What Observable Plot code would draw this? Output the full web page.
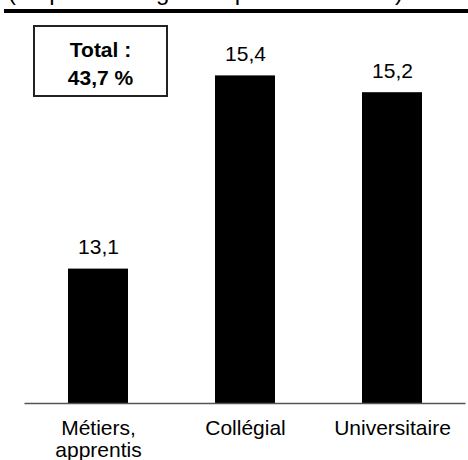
<!DOCTYPE html>
<html>
<head>
<meta charset="utf-8">
<script src="https://cdn.jsdelivr.net/npm/d3@7"></script>
<script src="https://cdn.jsdelivr.net/npm/@observablehq/plot@0.6"></script>
<style>
  body { margin: 0; background: #fff; }
  #wrap { position: relative; width: 468px; height: 460px; overflow: hidden; font-family: "Liberation Sans", Arial, sans-serif; color: #000; }
  #chart { position: absolute; left: 0; top: 0; }
  .subtitle { position: absolute; left: 8px; top: -20px; font-size: 24px; line-height: 24px; white-space: nowrap; }
  .rule { position: absolute; left: 4px; right: 0; top: 9px; height: 3.5px; background: #000; }
  .total { position: absolute; left: 33px; top: 25px; width: 135px; height: 72px; box-sizing: border-box;
           border: 2px solid #222; padding-top: 9px; text-align: center; font-weight: bold; font-size: 21px; line-height: 28px; }
</style>
</head>
<body>
<div id="wrap">
  <div id="chart"></div>
  <div class="subtitle">(en pourcentage des postes vacants)</div>
  <div class="rule"></div>
  <div class="total" id="total"></div>
</div>
<script>
// Share of vacancies by required level of education
const categories = ["Métiers,\napprentis", "Collégial", "Universitaire"];
const values = [13.1, 15.4, 15.2];
const yMin = 11.5;
const yMax = 16;

const fmt = v => v.toFixed(1).replace(".", ",");
const data = categories.map((c, i) => ({category: c, value: values[i]}));

const font = "'Liberation Sans', Arial, sans-serif";

const chart = Plot.plot({
  width: 468,
  height: 460,
  marginLeft: 24.5,
  marginRight: 2.5,
  marginTop: 25,
  marginBottom: 57,
  style: {fontFamily: font, fontSize: "21px", color: "#000", background: "transparent", overflow: "visible"},
  x: {domain: categories, paddingInner: 0.59, paddingOuter: 0.295, label: null},
  y: {domain: [yMin, yMax], axis: null},
  marks: [
    Plot.barY(data, {x: "category", y1: () => yMin, y2: "value", fill: "#000"}),
    Plot.ruleY([yMin], {stroke: "#555", strokeWidth: 1.5}),
    Plot.text(data, {x: "category", y: "value", text: d => fmt(d.value), lineAnchor: "bottom", dy: -15, fontSize: 21, fill: "#000"}),
    Plot.axisX({tickSize: 0, tickPadding: 16, fontSize: 21, lineHeight: 1.05, fill: "#000", label: null})
  ]
});
document.getElementById("chart").appendChild(chart);

// Total across the three levels
const total = d3.sum(values);
document.getElementById("total").innerHTML = "Total :<br>" + fmt(total) + " %";
</script>
</body>
</html>
